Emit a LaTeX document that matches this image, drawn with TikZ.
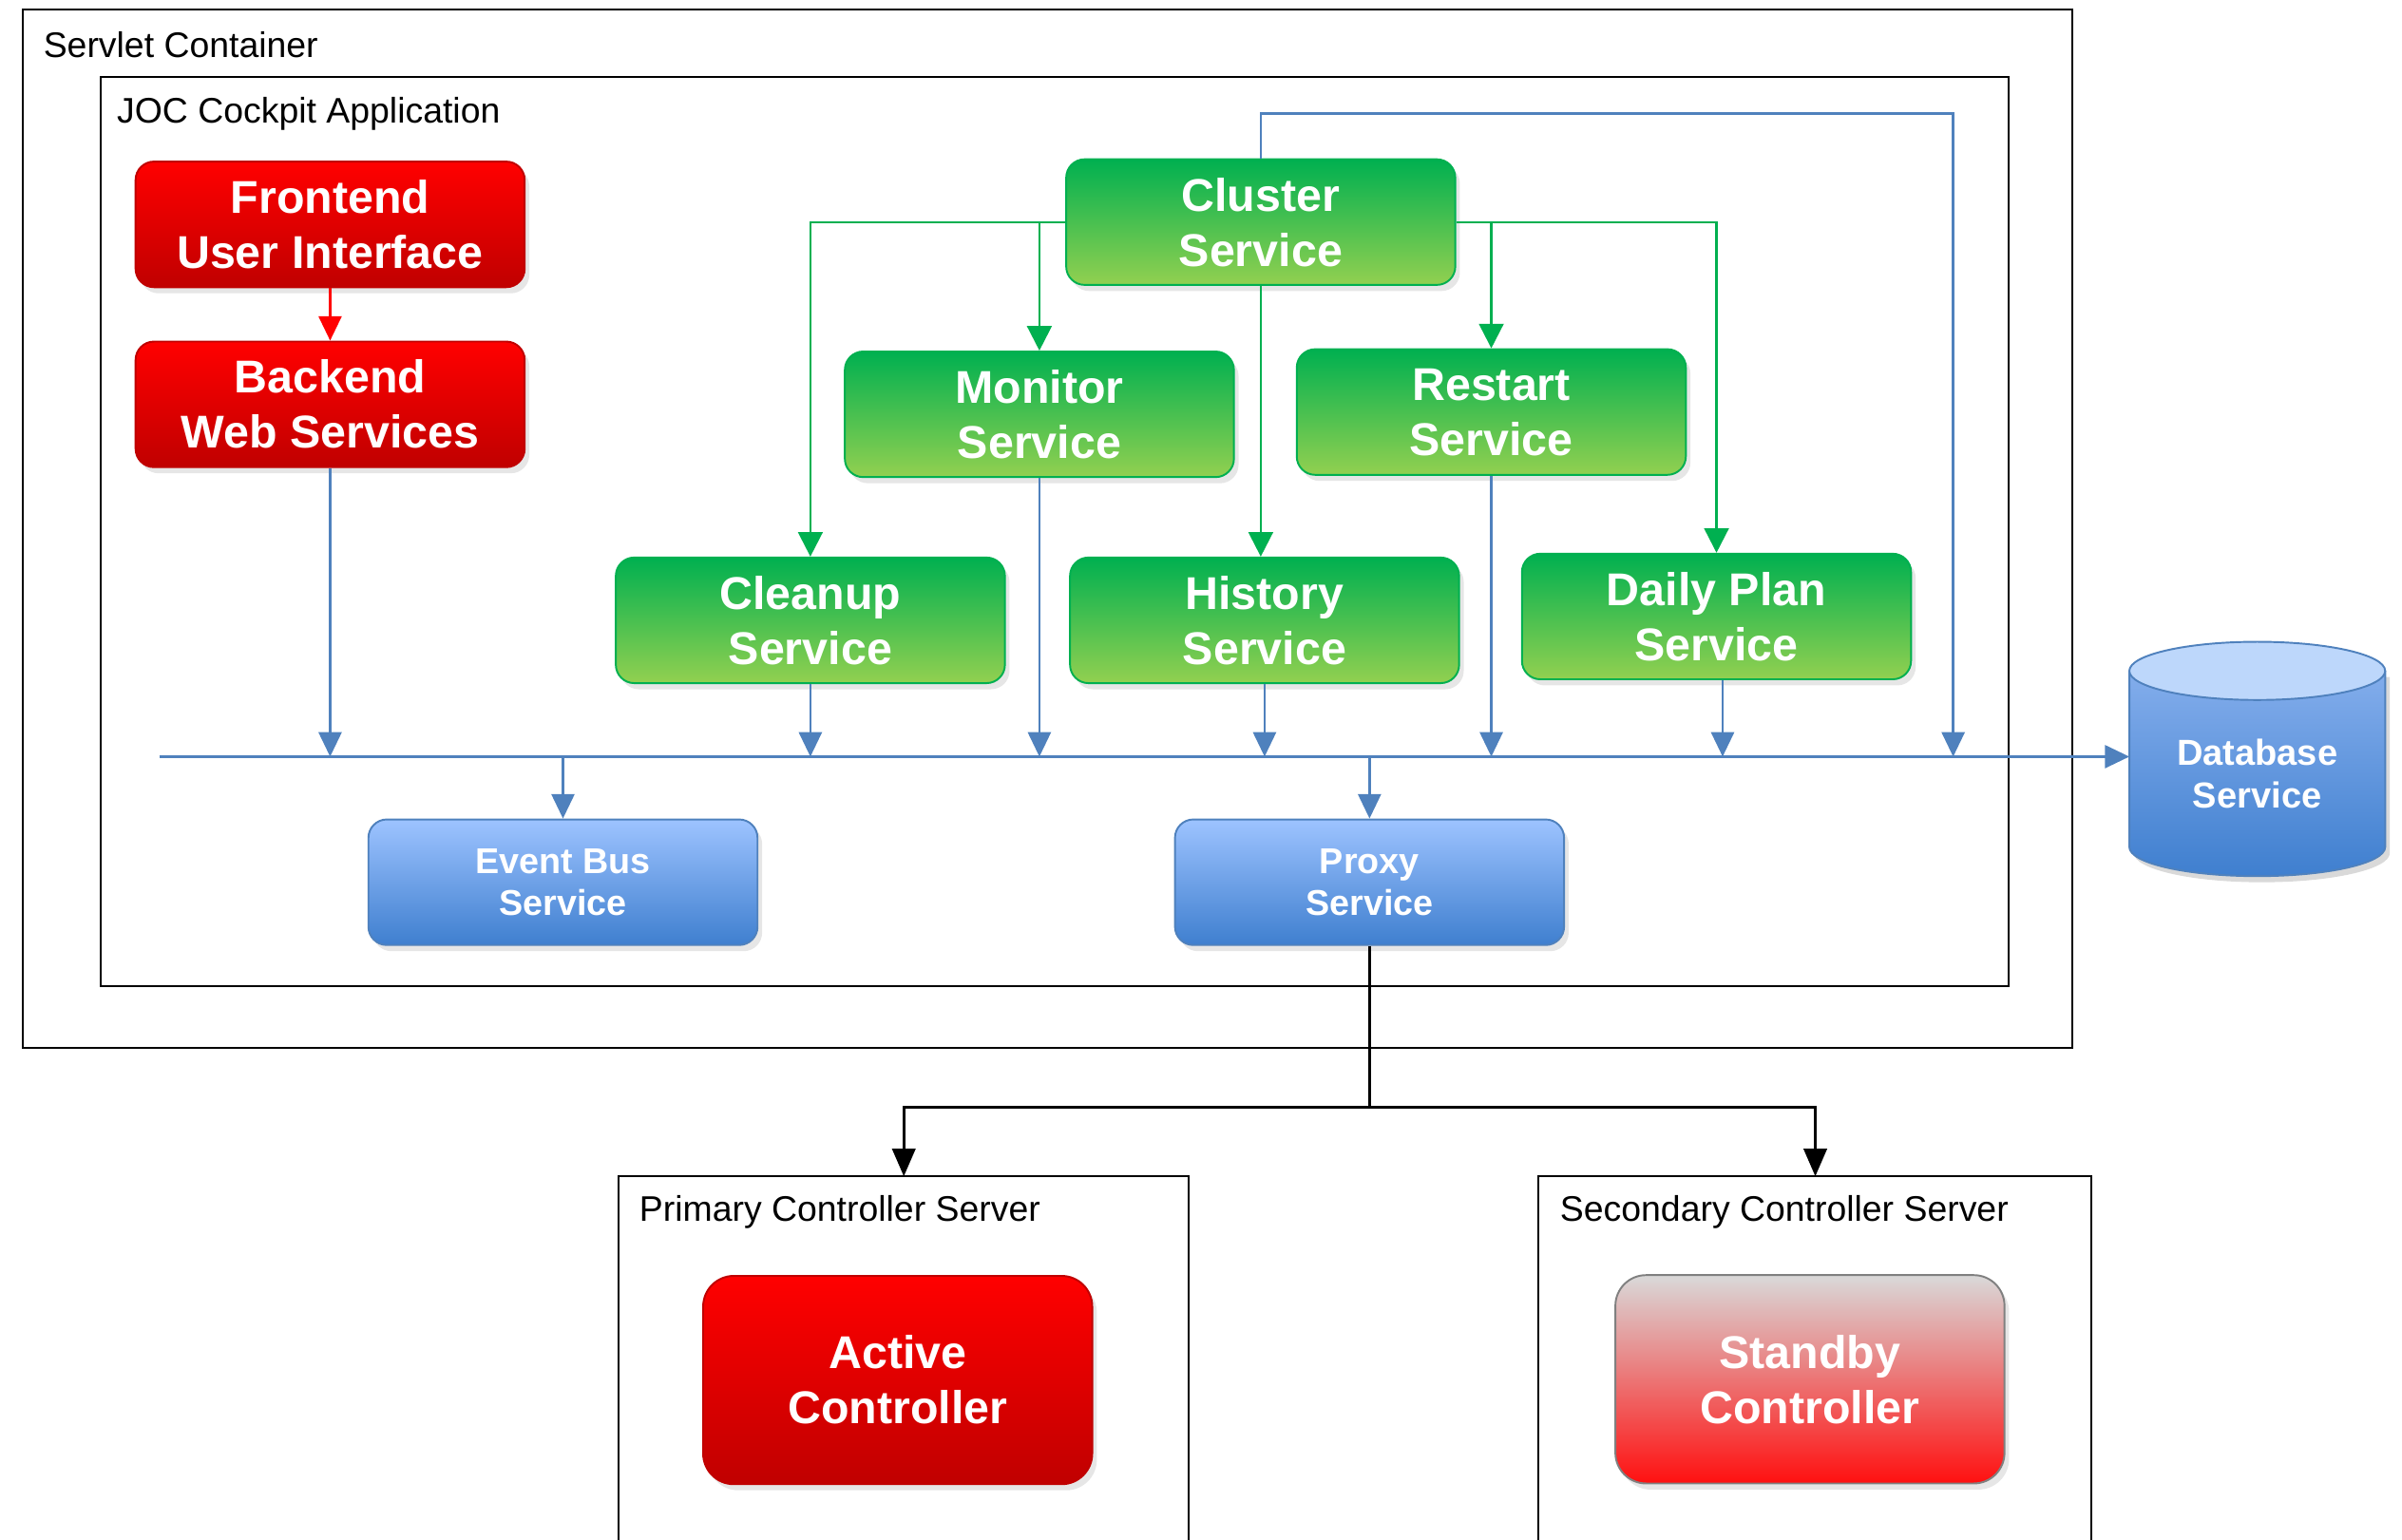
\documentclass[tikz,border=0pt]{standalone}
\usepackage{fontspec}
\setmainfont{Liberation Sans}
\usetikzlibrary{arrows.meta,shadows,calc}
\definecolor{cgreen}{HTML}{00B050}
\definecolor{lgreen}{HTML}{92D050}
\definecolor{cblue}{HTML}{4F81BD}
\definecolor{tblue}{HTML}{9DC3FF}
\definecolor{bblue}{HTML}{3F7FCF}
\definecolor{dbmid}{HTML}{8DB4F0}
\definecolor{dbtop}{HTML}{BDD7FB}
\definecolor{dred}{HTML}{C00000}
\definecolor{sgray}{HTML}{D9D9D9}
\definecolor{spink}{HTML}{E9A3A3}
\definecolor{sred}{HTML}{FF1010}
\tikzset{
 svc/.style={rounded corners=6pt, minimum width=127pt, minimum height=41pt, inner sep=0pt, align=center, text=white,
   font=\bfseries\fontsize{15}{18}\selectfont,
   drop shadow={shadow xshift=1.5pt, shadow yshift=-2pt, opacity=0.2}},
 redsvc/.style={svc, draw=dred, line width=0.6pt, top color=red, bottom color=dred},
 greensvc/.style={svc, draw=cgreen, line width=0.6pt, top color=cgreen, bottom color=lgreen},
 bluesvc/.style={svc, draw=cblue, line width=0.6pt, top color=tblue, bottom color=bblue, font=\bfseries\fontsize{11.7}{13.5}\selectfont},
 ctrl/.style={minimum height=68pt, rounded corners=10pt},
 framebox/.style={draw=black, line width=0.6pt},
 flabel/.style={anchor=base west, inner sep=0pt, font=\fontsize{11.6}{14}\selectfont},
 garrow/.style={draw=cgreen, line width=0.75pt, -{Triangle[length=8pt,width=8pt]}},
 bline/.style={draw=cblue, line width=0.75pt},
 barrow/.style={bline, -{Triangle[length=8pt,width=7.5pt]}},
 rarrow/.style={draw=red, line width=0.75pt, -{Triangle[length=8pt,width=7.5pt]}},
 karrow/.style={draw=black, line width=1pt, -{Triangle[length=9pt,width=7.5pt]}},
}
\begin{document}
\begin{tikzpicture}[x=0.5pt,y=-0.5pt]
\useasboundingbox (0,0) rectangle (1568,1005);
% frames
\draw[framebox] (15,6) rectangle (1353,684);
\node[flabel] (lservlet) at (28,37.5) {Servlet Container};
\draw[framebox] (66,50) rectangle (1311,644);
\node[flabel] (ljoc) at (76,80.5) {JOC Cockpit Application};
\draw[framebox] (404,1010) -- (404,768) -- (776,768) -- (776,1010);
\node[flabel] (lprim) at (417,797.5) {Primary Controller Server};
\draw[framebox] (1004,1010) -- (1004,768) -- (1365,768) -- (1365,1010);
\node[flabel] (lsec) at (1018,797.5) {Secondary Controller Server};

% nodes
\node[redsvc] (front) at (215.5,146.5) {Frontend\\User Interface};
\node[redsvc] (back) at (215.5,264) {Backend\\Web Services};
\node[greensvc] (cluster) at (823,145) {Cluster\\Service};
\node[greensvc] (monitor) at (678.5,270.5) {Monitor\\Service};
\node[greensvc] (restart) at (973.5,269) {Restart\\Service};
\node[greensvc] (cleanup) at (529,405) {Cleanup\\Service};
\node[greensvc] (history) at (825.5,405) {History\\Service};
\node[greensvc] (daily) at (1120.5,402.5) {Daily Plan\\Service};
\node[bluesvc] (eventbus) at (367.5,576) {Event Bus\\Service};
\node[bluesvc] (proxy) at (894,576) {Proxy\\Service};
\node[redsvc, ctrl] (active) at (586,901) {Active\\Controller};
\node[svc, ctrl, draw=gray, line width=0.6pt, top color=sgray, middle color=spink, bottom color=sred] (standby) at (1181.5,900.5) {Standby\\Controller};

% database cylinder
\begin{scope}[shift={(1.5pt,-2pt)}]
\fill[black, opacity=0.15] (1390,438) -- (1390,553) arc[start angle=180,end angle=360,x radius=41.75pt,y radius=9.5pt] -- (1557,438) -- cycle;
\end{scope}
\shade[top color=dbmid, bottom color=bblue] (1390,438) -- (1390,553) arc[start angle=180,end angle=360,x radius=41.75pt,y radius=9.5pt] -- (1557,438) arc[start angle=0,end angle=180,x radius=41.75pt,y radius=9.5pt] -- cycle;
\draw[cblue, line width=0.6pt] (1390,438) -- (1390,553) arc[start angle=180,end angle=360,x radius=41.75pt,y radius=9.5pt] -- (1557,438);
\filldraw[fill=dbtop, draw=cblue, line width=0.6pt] (1473.5,438) ellipse [x radius=41.75pt, y radius=9.5pt];
\node[font=\bfseries\fontsize{11.8}{14}\selectfont, text=white, align=center, inner sep=0pt] (db) at (1473.5,505) {Database\\Service};
\coordinate (dbin) at (1390,494);

% red connector
\draw[rarrow] (front.south) -- (back.north);

% green connectors
\draw[garrow] (cluster.west) -| (cleanup.north);
\draw[garrow] (monitor.north |- cluster.west) -- (monitor.north);
\draw[garrow] (cluster.east) -| (daily.north);
\draw[garrow] (restart.north |- cluster.east) -- (restart.north);
\draw[garrow] (cluster.south) -- (cluster.south |- history.north);

% blue bus
\coordinate (busL) at (104,494);
\coordinate (loopTop) at (1275,74);
\coordinate (loopR) at (1275,494);
\draw[barrow] (busL) -- (dbin);
\draw[barrow] (cluster.north) |- (loopTop) -- (loopR);
\foreach \n in {back,cleanup,monitor,history,restart}
  \draw[barrow] (\n.south) -- (\n.south |- busL);
\draw[barrow] ([xshift=2pt]daily.south) -- ([xshift=2pt]daily.south |- busL);
\draw[barrow] (eventbus.north |- busL) -- (eventbus.north);
\draw[barrow] (proxy.north |- busL) -- (proxy.north);

% black connectors
\coordinate (junc) at (894,723);
\coordinate (primIn) at (590,768);
\coordinate (secIn) at (1185,768);
\draw[line width=1pt] (proxy.south) -- (junc);
\draw[karrow] (junc) -| (primIn);
\draw[karrow] (junc) -| (secIn);
\end{tikzpicture}
\end{document}
